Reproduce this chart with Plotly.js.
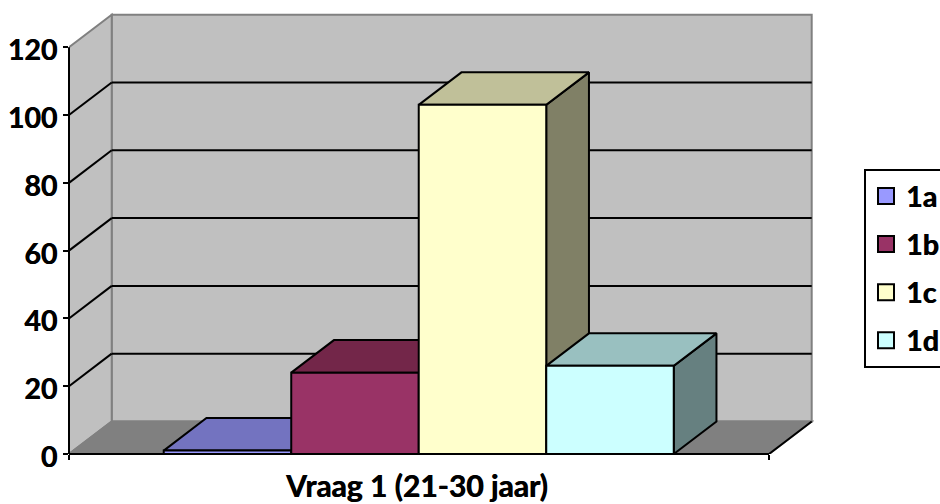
<!DOCTYPE html>
<html>
<head>
<meta charset="utf-8">
<script src="https://cdn.plot.ly/plotly-3.0.1.min.js"></script>
<style>html,body{margin:0;padding:0;background:#fff;overflow:hidden}</style>
</head>
<body>
<div id="chart" style="width:940px;height:504px"></div>
<script>
const categories = ['1a', '1b', '1c', '1d'];
const values = [1, 24, 103, 26];
const frontColors = ['#9999FF', '#993366', '#FFFFCC', '#CCFFFF'];
const topColors = ['#7373C0', '#732649', '#C0C099', '#99C0C0'];
const sideColors = ['#4D4D80', '#4D1A33', '#808066', '#668080'];
const yTicks = [0, 20, 40, 60, 80, 100, 120];
const axisTitle = 'Vraag 1 (21-30 jaar)';

const FONT = 'Lato, Carlito, sans-serif';
const SHADOW = '0.6px 0 0 #000';
const xL = -1.243, xEnd = 4.247, depthX = 0.335, depthY = 9.6, yMax = 120;
const half = 0.5;

const traces = [];
categories.forEach((c, i) => {
  const l = i - half, r = i + half, v = values[i];
  traces.push({
    type: 'scatter', mode: 'lines', fill: 'toself', fillcolor: sideColors[i],
    x: [r, r + depthX, r + depthX, r, r], y: [0, depthY, v + depthY, v, 0],
    line: {color: '#000', width: 2}, showlegend: false, hoverinfo: 'skip',
    cliponaxis: false, zorder: i * 2 + 1
  });
  traces.push({
    type: 'scatter', mode: 'lines', fill: 'toself', fillcolor: topColors[i],
    x: [l, l + depthX, r + depthX, r, l], y: [v, v + depthY, v + depthY, v, v],
    line: {color: '#000', width: 2}, showlegend: false, hoverinfo: 'skip',
    cliponaxis: false, zorder: i * 2 + 1
  });
  traces.push({
    type: 'bar', x: [i], y: [v], width: [1], name: c,
    marker: {color: frontColors[i], line: {color: '#000', width: 2}},
    showlegend: false, cliponaxis: false, zorder: i * 2 + 2
  });
});
categories.forEach((c, i) => {
  traces.push({
    type: 'scatter', mode: 'markers', x: [null], y: [null], name: c, legendgroup: c,
    marker: {symbol: 'square', size: 16, color: frontColors[i], line: {color: '#000', width: 2}}
  });
});

const shapes = [];
const poly = (xs, ys) => 'M' + xs.map((x, k) => x + ',' + ys[k]).join('L') + 'Z';
const wallColor = '#C0C0C0', edgeColor = '#808080';
shapes.push({type: 'path', layer: 'below', xref: 'x', yref: 'y',
  path: poly([xL + depthX, xEnd + depthX, xEnd + depthX, xL + depthX], [depthY, depthY, yMax + depthY, yMax + depthY]),
  fillcolor: wallColor, line: {color: edgeColor, width: 2}});
shapes.push({type: 'path', layer: 'below', xref: 'x', yref: 'y',
  path: poly([xL, xL + depthX, xL + depthX, xL], [0, depthY, yMax + depthY, yMax]),
  fillcolor: wallColor, line: {color: edgeColor, width: 2}});
shapes.push({type: 'path', layer: 'below', xref: 'x', yref: 'y',
  path: poly([xL, xEnd, xEnd + depthX, xL + depthX], [0, 0, depthY, depthY]),
  fillcolor: edgeColor, line: {color: edgeColor, width: 2}});
shapes.push({type: 'line', layer: 'below', xref: 'x', yref: 'y',
  x0: xEnd, y0: 0, x1: xEnd + depthX, y1: depthY, line: {color: '#000', width: 2}});
yTicks.filter(t => t > 0 && t < yMax).forEach(t => {
  shapes.push({type: 'line', layer: 'below', xref: 'x', yref: 'y',
    x0: xL, y0: t, x1: xL + depthX, y1: t + depthY, line: {color: '#000', width: 2}});
  shapes.push({type: 'line', layer: 'below', xref: 'x', yref: 'y',
    x0: xL + depthX, y0: t + depthY, x1: xEnd + depthX, y1: t + depthY, line: {color: '#000', width: 2}});
});
shapes.push({type: 'line', layer: 'above', xref: 'paper', yref: 'y',
  x0: 0, x1: 0, y0: 0, y1: yMax, line: {color: '#000', width: 2}});
shapes.push({type: 'line', layer: 'above', xref: 'x', yref: 'paper',
  x0: xL, x1: xEnd, y0: 0, y1: 0, line: {color: '#000', width: 2}});

const layout = {
  width: 940, height: 504, paper_bgcolor: '#fff', plot_bgcolor: 'rgba(0,0,0,0)',
  margin: {l: 69, r: 126, t: 12, b: 50, autoexpand: false},
  barmode: 'overlay', hovermode: false,
  font: {family: FONT, color: '#000'},
  xaxis: {range: [xL, 4.6], tickmode: 'array', tickvals: [xL, xEnd], ticktext: ['', ''],
    ticks: 'outside', ticklen: 5, tickwidth: 2, tickcolor: '#000',
    showgrid: false, zeroline: false, showline: false, fixedrange: true},
  yaxis: {range: [0, 130.4], tickmode: 'array', tickvals: yTicks,
    ticks: 'outside', ticklen: 5, tickwidth: 2, tickcolor: '#000', ticklabelshift: 3,
    tickfont: {family: FONT, size: 28.5, color: '#000', weight: 700, shadow: SHADOW},
    showgrid: false, zeroline: false, showline: false, fixedrange: true},
  shapes: shapes,
  annotations: [{text: axisTitle, xref: 'x', yref: 'paper', x: 1.486, y: 0,
    yanchor: 'top', xanchor: 'center', yshift: -11, showarrow: false,
    font: {family: FONT, size: 30, color: '#000', weight: 700, shadow: SHADOW}}],
  legend: {xref: 'container', yref: 'container', x: 864 / 940, y: 1 - 169 / 504,
    xanchor: 'left', yanchor: 'top', bordercolor: '#000', borderwidth: 2, bgcolor: '#fff',
    entrywidth: 120, entrywidthmode: 'pixels', tracegroupgap: 8, itemclick: false, itemdoubleclick: false,
    font: {family: FONT, size: 28.5, color: '#000', weight: 700, shadow: SHADOW}}
};
Plotly.newPlot('chart', traces, layout, {displayModeBar: false, staticPlot: true});
</script>
</body>
</html>
